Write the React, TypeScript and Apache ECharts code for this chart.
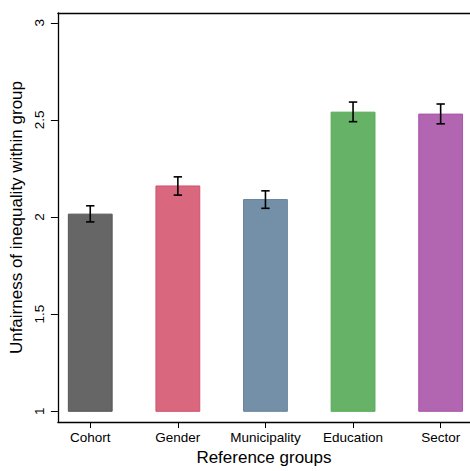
import { useEffect, useRef } from 'react';
import * as echarts from 'echarts';

const groups = ['Cohort', 'Gender', 'Municipality', 'Education', 'Sector'];
const means = [2.015, 2.16, 2.09, 2.54, 2.53];
const ciLow = [1.975, 2.113, 2.045, 2.491, 2.48];
const ciHigh = [2.058, 2.207, 2.135, 2.592, 2.582];
const yTicks = [1, 1.5, 2, 2.5, 3];
const barBase = 1;

const fills = ['#666666', '#d9687f', '#7490a8', '#66b266', '#b266b2'];
const strokes = ['#555555', '#d0506c', '#66839c', '#55aa55', '#a855a8'];

const font = '"Liberation Sans", Arial, sans-serif';

const App = () => {
  const chartDom = useRef<HTMLDivElement | null>(null);

  useEffect(() => {
    if (!chartDom.current) return;
    const myChart = echarts.init(chartDom.current, undefined, { renderer: 'svg' });

    // x range chosen so that the first category sits 32px right of the y axis
    const xMin = -0.3693;
    const xMax = 4.335;

    const option = {
      animation: false,
      backgroundColor: '#ffffff',
      grid: { left: 56, top: 13, right: 0, bottom: 41, containLabel: false },
      xAxis: [
        {
          type: 'value',
          position: 'bottom',
          min: xMin,
          max: xMax,
          splitLine: { show: false },
          axisLine: { show: true, onZero: false, lineStyle: { color: '#000', width: 1.3 } },
          axisTick: { show: true, length: 6, customValues: [0, 1, 2, 3, 4], lineStyle: { color: '#000', width: 1 } },
          axisLabel: {
            customValues: [0, 1, 2, 3, 4],
            formatter: (v: number) => groups[Math.round(v)] ?? '',
            color: '#000',
            fontSize: 13.5,
            fontFamily: font,
            margin: 8,
          },
          name: 'Reference groups',
          nameLocation: 'middle',
          nameGap: 21,
          nameTextStyle: { color: '#000', fontSize: 17, fontFamily: font },
        },
        {
          type: 'value',
          position: 'top',
          min: xMin,
          max: xMax,
          splitLine: { show: false },
          axisLine: { show: true, onZero: false, lineStyle: { color: '#000', width: 1.3 } },
          axisTick: { show: false },
          axisLabel: { show: false },
        },
      ],
      yAxis: {
        type: 'value',
        min: 0.9444,
        max: 3.0505,
        splitLine: { show: false },
        axisLine: { show: true, onZero: false, lineStyle: { color: '#000', width: 1.3 } },
        axisTick: { show: true, length: 7, customValues: yTicks, lineStyle: { color: '#000', width: 1 } },
        axisLabel: {
          customValues: yTicks,
          rotate: 90,
          color: '#000',
          fontSize: 13.5,
          fontFamily: font,
          margin: 11,
          formatter: (v: number) => String(v),
        },
        name: 'Unfairness of inequality within group',
        nameLocation: 'middle',
        nameGap: 26,
        nameTextStyle: { color: '#000', fontSize: 17, fontFamily: font },
      },
      series: [
        {
          type: 'custom',
          xAxisIndex: 0,
          data: means.map((m, i) => [i, m]),
          renderItem: (params: any, api: any) => {
            const i = api.value(0);
            const top = api.coord([i, api.value(1)]);
            const base = api.coord([i, barBase]);
            const w = api.size([1, 0])[0] * 0.5;
            return {
              type: 'rect',
              shape: { x: top[0] - w / 2, y: top[1], width: w, height: base[1] - top[1] },
              style: { fill: fills[params.dataIndex], stroke: strokes[params.dataIndex], lineWidth: 1 },
            };
          },
        },
        {
          type: 'custom',
          xAxisIndex: 0,
          data: groups.map((_, i) => [i, ciLow[i], ciHigh[i]]),
          renderItem: (_params: any, api: any) => {
            const i = api.value(0);
            const lo = api.coord([i, api.value(1)]);
            const hi = api.coord([i, api.value(2)]);
            const cap = 4.2;
            const st = { stroke: '#000', lineWidth: 1.6 };
            return {
              type: 'group',
              children: [
                { type: 'line', shape: { x1: lo[0], y1: lo[1], x2: hi[0], y2: hi[1] }, style: st },
                { type: 'line', shape: { x1: lo[0] - cap, y1: lo[1], x2: lo[0] + cap, y2: lo[1] }, style: st },
                { type: 'line', shape: { x1: hi[0] - cap, y1: hi[1], x2: hi[0] + cap, y2: hi[1] }, style: st },
              ],
            };
          },
        },
      ],
    };

    myChart.setOption(option);
    return () => {
      myChart.dispose();
    };
  }, []);

  return (
    <div
      ref={chartDom}
      style={{ position: 'absolute', left: 0, top: 0, width: 470, height: 471, background: '#fff' }}
    />
  );
};

export default App;
